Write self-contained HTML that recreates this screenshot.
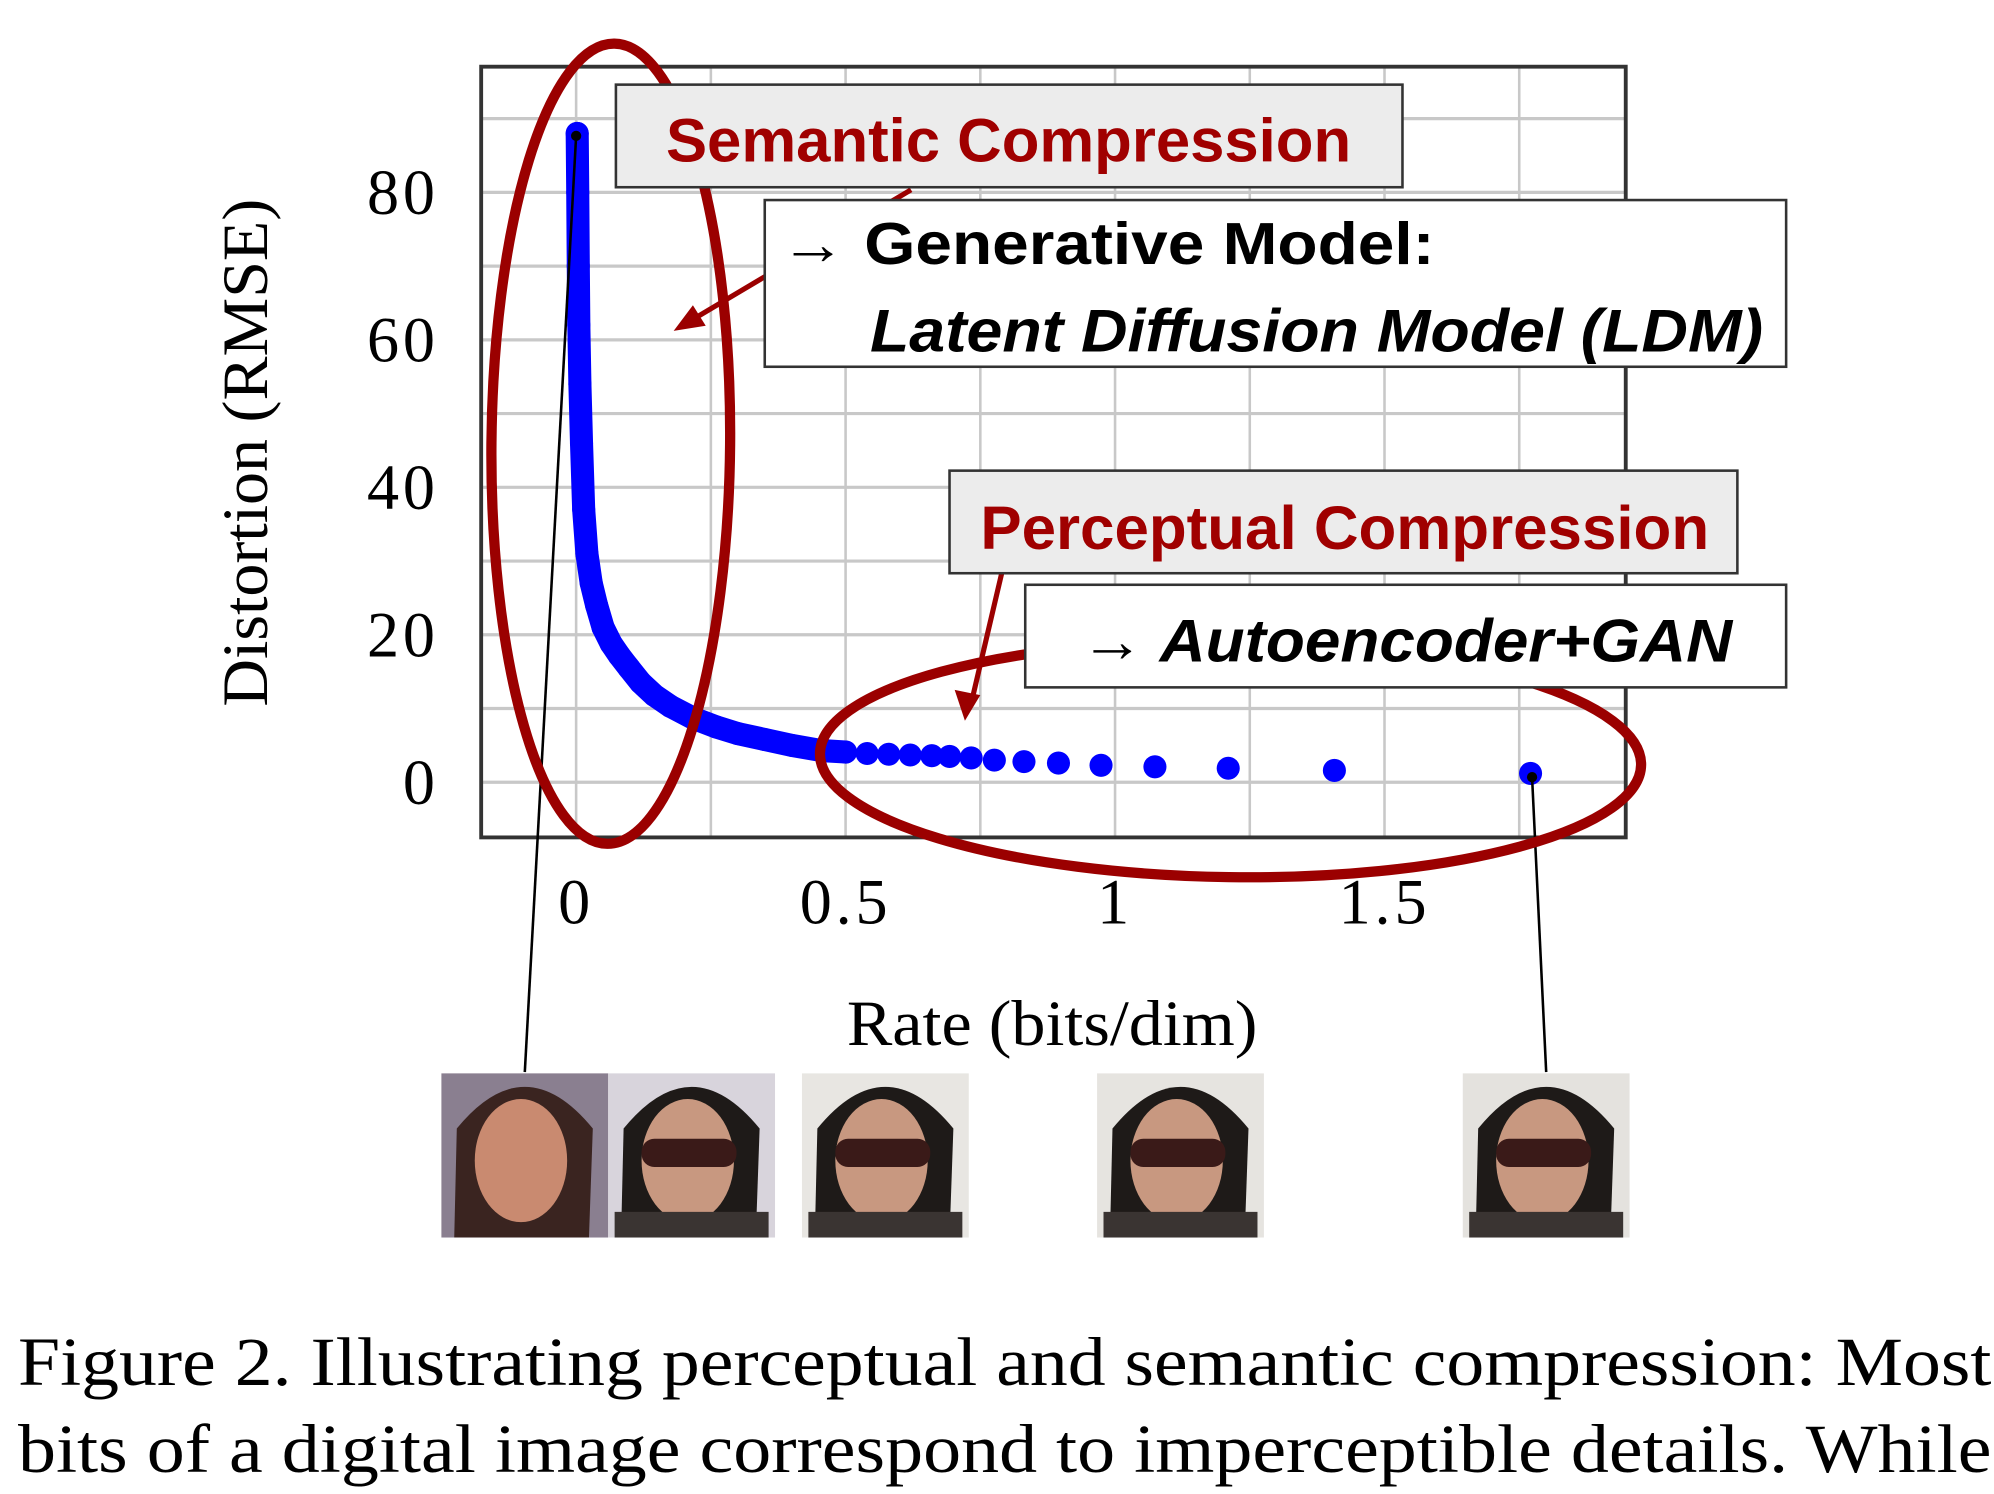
<!DOCTYPE html>
<html><head><meta charset="utf-8"><style>
html,body{margin:0;padding:0;background:#fff;}
svg{display:block;}
.serif{font-family:"Liberation Serif",serif;}
.sans{font-family:"Liberation Sans",sans-serif;font-weight:bold;}
</style></head><body>
<svg id="fig" width="1994" height="1494" viewBox="0 0 1554 1165" preserveAspectRatio="none" xmlns="http://www.w3.org/2000/svg">
<g id="grid"></g>
<rect x="375" y="52" width="892" height="601" fill="none" stroke="#333" stroke-width="3"/>
<g id="ticks"></g>
<text class="serif" font-size="50" text-anchor="middle" textLength="396" lengthAdjust="spacingAndGlyphs" transform="translate(208,353) rotate(-90)">Distortion (RMSE)</text>
<text class="serif" font-size="50" text-anchor="middle" x="820" y="815" textLength="320" lengthAdjust="spacingAndGlyphs">Rate (bits/dim)</text>
<g id="series"></g>
<line x1="449" y1="106" x2="409" y2="836" stroke="#000" stroke-width="2"/>
<circle cx="449" cy="106" r="4" fill="#000"/>
<line x1="1194" y1="606" x2="1205" y2="836" stroke="#000" stroke-width="2"/>
<circle cx="1194" cy="606" r="4" fill="#000"/>
<ellipse cx="476" cy="346" rx="93" ry="312" fill="none" stroke="#9b0000" stroke-width="8" transform="rotate(0.5 476 346)"/>
<ellipse cx="959" cy="592" rx="320" ry="92" fill="none" stroke="#9b0000" stroke-width="8" transform="rotate(0.8 959 592)"/>
<line x1="710" y1="148" x2="535" y2="252" stroke="#9b0000" stroke-width="4"/>
<polygon points="525,258 540,238 550,254" fill="#9b0000"/>
<line x1="783" y1="437" x2="757" y2="548" stroke="#9b0000" stroke-width="4"/>
<polygon points="752,562 744,538 764,542" fill="#9b0000"/>
<rect x="480" y="66" width="613" height="80" fill="#ececec" stroke="#333" stroke-width="2"/>
<text class="sans" font-size="48" fill="#a00000" x="786" y="126" text-anchor="middle" textLength="534" lengthAdjust="spacingAndGlyphs">Semantic Compression</text>
<rect x="596" y="156" width="796" height="130" fill="#fff" stroke="#333" stroke-width="2"/>
<text class="sans" font-size="46" x="608" y="206" textLength="510" lengthAdjust="spacingAndGlyphs">→ Generative Model:</text>
<text class="sans" font-size="47" font-style="italic" x="678" y="274" textLength="696" lengthAdjust="spacingAndGlyphs">Latent Diffusion Model (LDM)</text>
<rect x="740" y="367" width="614" height="80" fill="#ececec" stroke="#333" stroke-width="2"/>
<text class="sans" font-size="48" fill="#a00000" x="1048" y="428" text-anchor="middle" textLength="568" lengthAdjust="spacingAndGlyphs">Perceptual Compression</text>
<rect x="799" y="456" width="593" height="80" fill="#fff" stroke="#333" stroke-width="2"/>
<text class="sans" font-size="47" font-style="italic" x="842" y="516" textLength="508" lengthAdjust="spacingAndGlyphs">→ Autoencoder+GAN</text>
<g id="faces"></g>
<text class="serif" font-size="54" x="14" y="1080" textLength="1538" lengthAdjust="spacingAndGlyphs">Figure 2.  Illustrating perceptual and semantic compression: Most</text>
<text class="serif" font-size="54" x="14" y="1148" textLength="1538" lengthAdjust="spacingAndGlyphs">bits of a digital image correspond to imperceptible details. While</text>
</svg>
<script>
const rates = [0.002,0.003,0.004,0.005,0.007,0.010,0.014,0.020,0.028,0.038,0.050,0.065,0.080,0.098,0.120,0.145,0.175,0.217,0.26,0.30,0.35,0.40,0.455,0.50,0.54,0.58,0.62,0.66,0.693,0.733,0.776,0.831,0.895,0.974,1.074,1.21,1.407,1.771];
const distortions = [88,80,70,62,54,46,37,31,27,24,21,18.8,17.2,15.5,13.5,11.8,10.3,8.7,7.5,6.6,5.8,5.0,4.3,4.1,3.9,3.8,3.7,3.6,3.5,3.3,3.0,2.8,2.6,2.3,2.1,1.9,1.6,1.2];
const xTicks = [0,0.5,1,1.5];
const xTickLabels = ["0","0.5","1","1.5"];
const yTicks = [0,20,40,60,80];
const yTickLabels = ["0","20","40","60","80"];
const NS="http://www.w3.org/2000/svg";
const X0=449, XS=420, Y0=610, YS=5.75;
function xs(v){return X0+v*XS;}
function ys(v){return Y0-v*YS;}
function mk(tag,attrs,parent){const e=document.createElementNS(NS,tag);for(const k in attrs)e.setAttribute(k,attrs[k]);parent.appendChild(e);return e;}
const grid=document.getElementById('grid');
for(let k=-1;k<=8;k++){const gx=xs(k*0.25);if(gx<=376||gx>=1266)continue;
 const l=mk('line',{x1:gx,x2:gx,y1:53,y2:652,stroke:'#c8c8c8','stroke-width':2},grid);
 
 }
for(let v=-10;v<=100;v+=10){const gy=ys(v);if(gy<=53||gy>=652)continue;
 const l=mk('line',{x1:376,x2:1266,y1:gy,y2:gy,stroke:'#c8c8c8','stroke-width':2.5},grid);
 
 }
const ticks=document.getElementById('ticks');
xTicks.forEach((v,i)=>{const t=mk('text',{x:xs(v),y:720,'text-anchor':'middle','font-size':50,class:'serif','letter-spacing':3},ticks);t.textContent=xTickLabels[i];
 
 });
yTicks.forEach((v,i)=>{const t=mk('text',{x:342,y:ys(v)+17,'text-anchor':'end','font-size':50,class:'serif','letter-spacing':3},ticks);t.textContent=yTickLabels[i];
 
 });
const series=document.getElementById('series');
const dense=rates.map((r,i)=>[r,distortions[i]]).filter(p=>p[0]<=0.5);
const pl=mk('polyline',{points:dense.map(p=>xs(p[0])+','+ys(p[1])).join(' '),fill:'none',stroke:'#0000ff','stroke-width':18,'stroke-linecap':'round','stroke-linejoin':'round'},series);


rates.forEach((r,i)=>{const c=mk('circle',{cx:xs(r),cy:ys(distortions[i]),r:9,fill:'#0000ff'},series);
 
 });
const faces=document.getElementById('faces');
const faceX=[344,474,625,855,1140];
const bgs=['#8a7f90','#d8d4dc','#e8e6e2','#e6e4e0','#e4e2de'];
faceX.forEach((fx,i)=>{const g=mk('g',{},faces);
 
 
 mk('rect',{x:fx,y:837,width:130,height:128,fill:bgs[i]},g);
 mk('path',{d:`M${fx+10} 965 L${fx+12} 880 Q${fx+65} 815 ${fx+118} 880 L${fx+115} 965 Z`,fill:i==0?'#3a2420':'#1e1a18'},g);
 mk('ellipse',{cx:fx+62,cy:905,rx:36,ry:48,fill:i==0?'#c98a70':'#c89880'},g);
 if(i>0){mk('rect',{x:fx+26,y:888,width:74,height:22,rx:10,fill:'#3a1a18'},g);
  mk('rect',{x:fx+5,y:945,width:120,height:20,fill:'#3a3432'},g);}
});
</script>
</body></html>
